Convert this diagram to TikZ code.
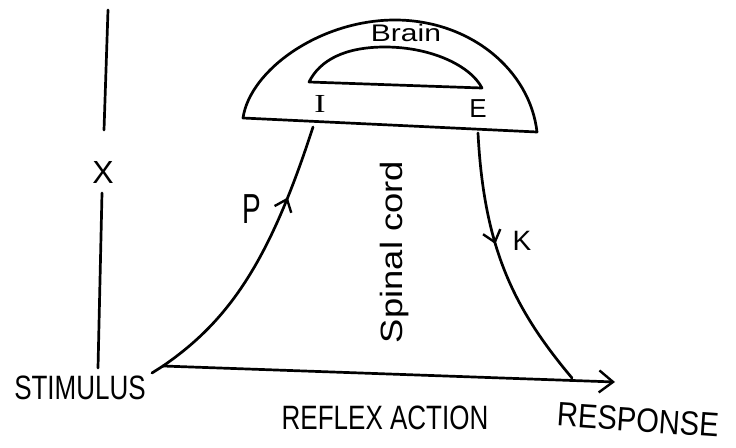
\documentclass[tikz,border=0pt]{standalone}
\usepackage{graphicx}
\usepackage{fontspec}
\setmainfont{Liberation Sans}
\newfontfamily\seriffam{Liberation Serif}
\usetikzlibrary{arrows.meta,decorations.markings}
\begin{document}
\begin{tikzpicture}[x=1pt,y=-1pt,
  ink/.style={line width=2.7pt,line cap=round,line join=round,black},
  lbl/.style={inner sep=0pt,font=\fontsize{26}{28}\selectfont},
  midarrow/.style={postaction={decorate,decoration={markings,
     mark=at position #1 with {\arrow{Straight Barb[length=11pt,width=18pt,line width=2.4pt]}}}}}]
\useasboundingbox (0,0) rectangle (736,447);
\fill[white] (0,0) rectangle (736,447);
% vertical axis with X
\coordinate (v1) at (108,10);
\coordinate (v2) at (104,130);
\coordinate (v3) at (102,193);
\coordinate (v4) at (98,368);
\draw[ink] (v1) -- (v2);
\draw[ink] (v3) -- (v4);
\node[lbl,font=\fontsize{32}{34}\selectfont] (x) at (103,172) {X};
% brain outer
\coordinate (bl) at (243,118);
\coordinate (br) at (537,132);
\coordinate (bt) at (395,20);
\draw[ink] (bl) .. controls (250,70) and (320,20) .. (bt)
  .. controls (470,20) and (530,70) .. (br) -- cycle;
% brain inner
\coordinate (il) at (309,82);
\coordinate (ir) at (482,88);
\coordinate (it) at (385,47);
\draw[ink] (il) .. controls (320,60) and (345,47) .. (it)
  .. controls (430,47) and (470,65) .. (ir) -- cycle;
\node[lbl,font=\fontsize{24}{26}\selectfont] (brain) at (406,33) {\scalebox{1.25}[1]{Brain}};
\node[lbl,font=\seriffam\fontsize{26}{28}\selectfont] (I) at (320,104) {\scalebox{1.3}[1]{I}};
\node[lbl,font=\fontsize{26}{28}\selectfont] (E) at (478,109) {E};
% pathways
\coordinate (ptop) at (313,127);
\coordinate (stim) at (163,366);
\coordinate (tail) at (152,373);
\coordinate (etop) at (478,133);
\coordinate (resp) at (572,378);
\coordinate (tip) at (615,382);
\draw[ink,midarrow=0.74] (stim) .. controls (230,320) and (270,260) .. (ptop);
\draw[ink] (tail) -- (stim);
\draw[ink,midarrow=0.42] (etop) .. controls (484,250) and (515,310) .. (resp);
\draw[ink,-{Straight Barb[length=14pt,width=22pt,line width=2.4pt]}] (stim) -- (tip);
\node[lbl,font=\fontsize{28}{30}\selectfont] (P) at (252,209) {\scalebox{1}[1.5]{P}};
\node[lbl,font=\fontsize{28}{30}\selectfont] (K) at (522,241) {K};
\node[lbl,rotate=90,font=\fontsize{28}{30}\selectfont] (sc) at (395,252) {\scalebox{1.3}[1.1]{Spinal cord}};
% bottom labels
\node[lbl] (stimulus) at (80,388) {\scalebox{1}[1.3]{STIMULUS}};
\node[lbl] (reflex) at (385,418) {\scalebox{1}[1.3]{REFLEX ACTION}};
\node[lbl,rotate=-4] (response) at (638,420) {\scalebox{1.12}[1.3]{RESPONSE}};
\end{tikzpicture}
\end{document}
